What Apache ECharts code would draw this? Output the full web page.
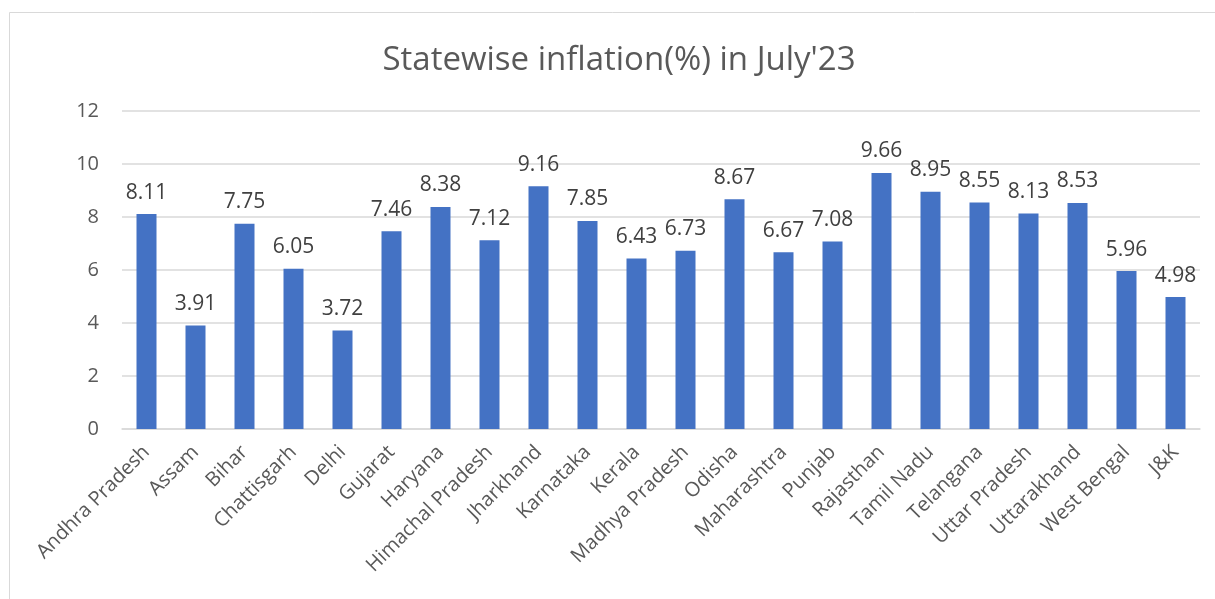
<!DOCTYPE html>
<html>
<head>
<meta charset="utf-8">
<script src="https://cdn.jsdelivr.net/npm/echarts@6/dist/echarts.min.js"></script>
<style>html,body{margin:0;padding:0;background:#fff}#c{width:1215px;height:599px}</style>
</head>
<body>
<div id="c"></div>
<script>
const categories = ["Andhra Pradesh","Assam","Bihar","Chattisgarh","Delhi","Gujarat","Haryana","Himachal Pradesh","Jharkhand","Karnataka","Kerala","Madhya Pradesh","Odisha","Maharashtra","Punjab","Rajasthan","Tamil Nadu","Telangana","Uttar Pradesh","Uttarakhand","West Bengal","J&K"];
const inflation = [8.11,3.91,7.75,6.05,3.72,7.46,8.38,7.12,9.16,7.85,6.43,6.73,8.67,6.67,7.08,9.66,8.95,8.55,8.13,8.53,5.96,4.98];
const titleText = "Statewise inflation(%) in July'23";
const yTicks = [0,2,4,6,8,10,12];

const FONT = "'Open Sans', sans-serif";
const chart = echarts.init(document.getElementById('c'));
chart.setOption({
  animation: false,
  backgroundColor: '#fff',
  graphic: [
    {type:'rect', shape:{x:9.5,y:12.5,width:1400,height:800}, style:{fill:'none',stroke:'#d9d9d9',lineWidth:1}, z:-1},
    {type:'text', x:619, y:61, style:{text:titleText, fill:'#595959', font:"33px 'Open Sans', sans-serif", align:'center', verticalAlign:'middle'}}
  ],
  grid: {left:122, right:15, top:111, height:318, containLabel:false},
  xAxis: {
    type:'category', data:categories,
    axisLine:{lineStyle:{color:'#d9d9d9', width:1.5}},
    axisTick:{show:false},
    axisLabel:{rotate:45, interval:0, color:'#595959', fontFamily:FONT, fontSize:20, margin:20}
  },
  yAxis: {
    type:'value', min:yTicks[0], max:yTicks[yTicks.length-1], interval:2,
    axisLine:{show:false}, axisTick:{show:false},
    splitLine:{lineStyle:{color:'#d9d9d9', width:1.5}},
    axisLabel:{color:'#595959', fontFamily:FONT, fontSize:20, margin:23}
  },
  series: [{
    type:'bar', data:inflation, barWidth:20,
    itemStyle:{color:'#4472C4'},
    label:{show:true, position:'top', distance:11, color:'#404040', fontFamily:FONT, fontSize:21, formatter:p=>p.value.toFixed(2)}
  }]
});
</script>
</body>
</html>
